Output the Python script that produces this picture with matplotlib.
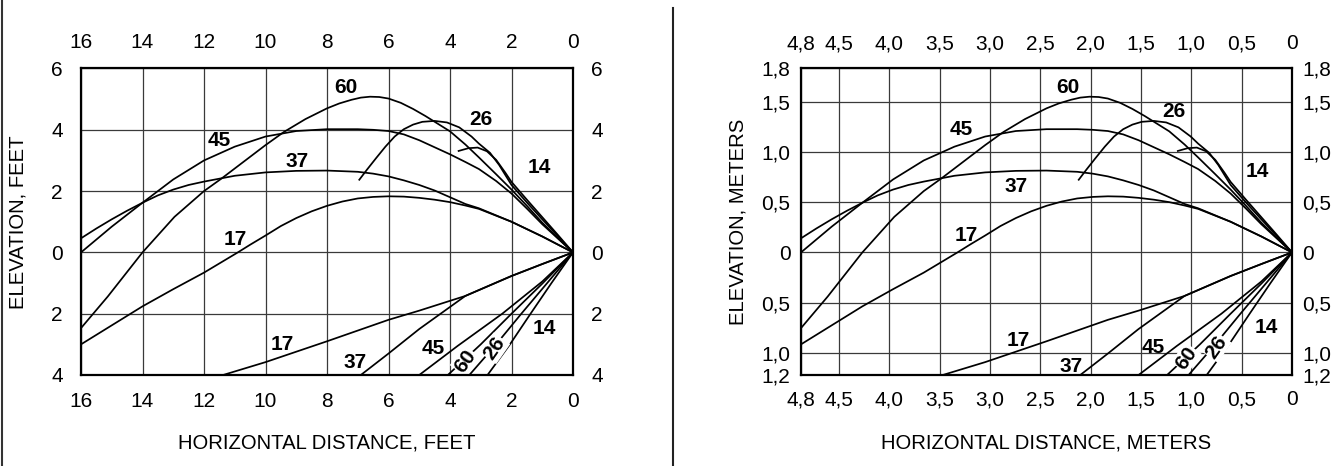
import matplotlib
matplotlib.use("Agg")
import matplotlib.pyplot as plt
from matplotlib.lines import Line2D

plt.rcParams['font.family'] = ['Liberation Sans', 'DejaVu Sans']

# curves (x = horizontal distance, y = elevation, ft)
up60_x = [16, 15.13, 14, 12.96, 12, 11.43, 10, 9.4, 8.7, 8, 7.6, 7.2, 6.9, 6.6, 6.3, 6.0,
          5.6, 5.2, 4.8, 4.4, 4.0, 3.5, 3.06, 2.5, 2.0, 1.5, 1.0, 0.5, 0]
up60_y = [-2.47, -1.44, 0, 1.16, 2.0, 2.41, 3.5, 3.93, 4.35, 4.7, 4.86, 4.98, 5.05, 5.08, 5.07, 5.02,
          4.88, 4.68, 4.45, 4.2, 3.95, 3.52, 3.1, 2.55, 2.05, 1.52, 0.97, 0.48, 0]

up45_x = [16, 15, 14, 13, 12, 11, 10, 9, 8, 7, 6.5, 6, 5.5, 5, 4.5, 4, 3.5, 3.06,
          2.5, 2.0, 1.5, 1.0, 0.5, 0]
up45_y = [0, 0.84, 1.62, 2.38, 3.0, 3.45, 3.78, 3.96, 4.02, 4.02, 4.0, 3.96, 3.85, 3.66, 3.43, 3.2, 2.95, 2.72,
          2.33, 1.92, 1.43, 0.92, 0.46, 0]

up37_x = [16, 15.5, 15, 14.5, 14, 13.5, 13, 12.5, 12, 11, 10, 9, 8, 7, 6.5, 6, 5.5, 5, 4.5, 4,
          3.5, 3.06, 2.0, 1.0, 0]
up37_y = [0.46, 0.78, 1.08, 1.36, 1.62, 1.86, 2.05, 2.2, 2.31, 2.5, 2.61, 2.66, 2.67, 2.63, 2.57, 2.48,
          2.35, 2.2, 2.02, 1.8, 1.58, 1.44, 1.0, 0.52, 0]

up26_x = [6.95, 6.7, 6.4, 6.1, 5.8, 5.5, 5.2, 4.9, 4.5, 4.1, 3.7, 3.3, 3.06, 2.7, 2.4, 2.0,
          1.5, 1.0, 0.5, 0]
up26_y = [2.37, 2.7, 3.08, 3.45, 3.78, 4.02, 4.17, 4.26, 4.29, 4.24, 4.08, 3.78, 3.55, 3.25, 2.85, 2.2,
          1.63, 1.08, 0.54, 0]

up17_x = [16, 15, 14, 13, 12, 10.9, 10.5, 10, 9.5, 9, 8.5, 8, 7.5, 7, 6.5, 6, 5.5, 5, 4.5, 4,
          3.5, 3.06, 2.0, 1.0, 0]
up17_y = [-3.0, -2.38, -1.76, -1.2, -0.66, 0, 0.25, 0.55, 0.86, 1.12, 1.34, 1.52, 1.66, 1.76, 1.81, 1.83,
          1.82, 1.78, 1.72, 1.64, 1.53, 1.42, 1.0, 0.52, 0]

up14_x = [3.72, 3.4, 3.1, 2.8, 2.5, 2.2, 2.0, 1.5, 1.0, 0.5, 0]
up14_y = [3.31, 3.4, 3.42, 3.3, 3.02, 2.6, 2.3, 1.72, 1.15, 0.58, 0]

lo17_x = [11.38, 10, 8, 6, 5, 3.5, 2.0, 1.0, 0]
lo17_y = [-4.0, -3.58, -2.9, -2.2, -1.9, -1.42, -0.77, -0.38, 0]

lo37_x = [6.9, 6.0, 5.0, 4.0, 3.5, 2.0, 1.0, 0]
lo37_y = [-4.0, -3.3, -2.5, -1.78, -1.42, -0.77, -0.38, 0]

lo45_x = [5.0, 3.75, 2.3, 1.0, 0]
lo45_y = [-4.0, -3.05, -2.0, -0.95, 0]

lo60_x = [4.07, 3.0, 2.0, 1.0, 0]
lo60_y = [-4.0, -3.0, -2.0, -1.02, 0]

lo26_x = [3.37, 2.5, 1.68, 0.84, 0]
lo26_y = [-4.0, -3.0, -2.0, -1.0, 0]

lo14_x = [2.78, 2.05, 1.38, 0.7, 0]
lo14_y = [-4.0, -3.0, -2.0, -1.0, 0]

curves = [(up60_x, up60_y), (up45_x, up45_y), (up37_x, up37_y), (up26_x, up26_y),
          (up17_x, up17_y), (up14_x, up14_y), (lo17_x, lo17_y), (lo37_x, lo37_y),
          (lo45_x, lo45_y), (lo60_x, lo60_y), (lo26_x, lo26_y), (lo14_x, lo14_y)]

# curve labels
lab_text = ['60', '26', '45', '37', '14', '17', '17', '37', '45', '60', '26', '14']
lab_rot = [0, 0, 0, 0, 0, 0, 0, 0, 0, 55, 55, 0]
lab_box = [False] * 9 + [True, True, False]
lab_ft_x = [7.37, 2.98, 11.49, 8.96, 1.08, 10.98, 9.44, 7.08, 4.55, 3.51, 2.54, 0.92]
lab_ft_y = [5.38, 4.35, 3.66, 2.98, 2.76, 0.43, -3.02, -3.6, -3.13, -3.54, -3.13, -2.48]
lab_m_x = [2.23, 1.17, 3.29, 2.74, 0.34, 3.24, 2.72, 2.19, 1.38, 1.05, 0.75, 0.26]
lab_m_y = [1.64, 1.40, 1.22, 0.66, 0.80, 0.17, -0.88, -1.13, -0.95, -1.05, -0.94, -0.75]

# axes ticks
ft_xticks = [16, 14, 12, 10, 8, 6, 4, 2, 0]
ft_yticks = [6, 4, 2, 0, -2, -4]
ft_ylabels = ['6', '4', '2', '0', '2', '4']

FT_TO_M = 0.3048
m_xticks = [16 * FT_TO_M, 4.5, 4.0, 3.5, 3.0, 2.5, 2.0, 1.5, 1.0, 0.5, 0]
m_xlabels = ['4,8', '4,5', '4,0', '3,5', '3,0', '2,5', '2,0', '1,5', '1,0', '0,5', '0']
m_yticks = [6 * FT_TO_M, 1.5, 1.0, 0.5, 0, -0.5, -1.0, -4 * FT_TO_M]
m_ylabels = ['1,8', '1,5', '1,0', '0,5', '0', '0,5', '1,0', '1,2']


def draw_panel(ax, scale, xticks, xlabels, yticks, ylabels, lab_x, lab_y, xpad, ypad):
    for cx, cy in curves:
        ax.plot([v * scale for v in cx], [v * scale for v in cy],
                color='black', lw=1.25, solid_joinstyle='round', zorder=3)
    for t, x, y, r, b in zip(lab_text, lab_x, lab_y, lab_rot, lab_box):
        kw = {}
        if b:
            kw['bbox'] = dict(facecolor='white', edgecolor='none', pad=0.5)
        ax.text(x, y, t, fontsize=15, fontweight='bold', ha='center', va='center',
                rotation=r, rotation_mode='anchor', zorder=4, **kw)
    ax.set_xlim(16 * scale, 0)
    ax.set_ylim(-4 * scale, 6 * scale)
    ax.set_xticks(xticks)
    ax.set_xticklabels(xlabels)
    ax.set_yticks(yticks)
    ax.set_yticklabels(ylabels)
    ax.tick_params(axis='both', length=0, labelsize=15,
                   top=True, labeltop=True, right=True, labelright=True)
    ax.tick_params(axis='x', pad=xpad)
    ax.tick_params(axis='y', pad=ypad)
    ax.grid(True, color='#3a3a3a', lw=0.9)
    ax.set_axisbelow(True)
    for s in ax.spines.values():
        s.set_linewidth(1.6)
        s.set_color('black')
        s.set_zorder(5)


fig = plt.figure(figsize=(13.39, 4.66), dpi=100)

ax1 = fig.add_axes([81 / 1339, 91 / 466, 492 / 1339, 306.5 / 466])
draw_panel(ax1, 1.0, ft_xticks, [str(v) for v in ft_xticks], ft_yticks, ft_ylabels,
           lab_ft_x, lab_ft_y, 12, 13)

ax2 = fig.add_axes([801 / 1339, 91 / 466, 491 / 1339, 306.5 / 466])
draw_panel(ax2, FT_TO_M, m_xticks, m_xlabels, m_yticks, m_ylabels,
           lab_m_x, lab_m_y, 11, 7.5)

fig.text(327 / 1339, 23 / 466, 'HORIZONTAL DISTANCE, FEET', fontsize=14.6,
         ha='center', va='center')
fig.text(1046 / 1339, 23 / 466, 'HORIZONTAL DISTANCE, METERS', fontsize=14.6,
         ha='center', va='center')
fig.text(18 / 1339, 244 / 466, 'ELEVATION, FEET', fontsize=14.6, rotation=90,
         ha='center', va='center')
fig.text(738 / 1339, 244 / 466, 'ELEVATION, METERS', fontsize=14.6, rotation=90,
         ha='center', va='center')

# frame line on the left and divider between the two panels
fig.add_artist(Line2D([2 / 1339, 2 / 1339], [0, 1], transform=fig.transFigure,
                      color='#333333', lw=1.5))
fig.add_artist(Line2D([673 / 1339, 673 / 1339], [0, 458 / 466], transform=fig.transFigure,
                      color='#222222', lw=1.5))

fig.savefig('out.png', dpi=100)
